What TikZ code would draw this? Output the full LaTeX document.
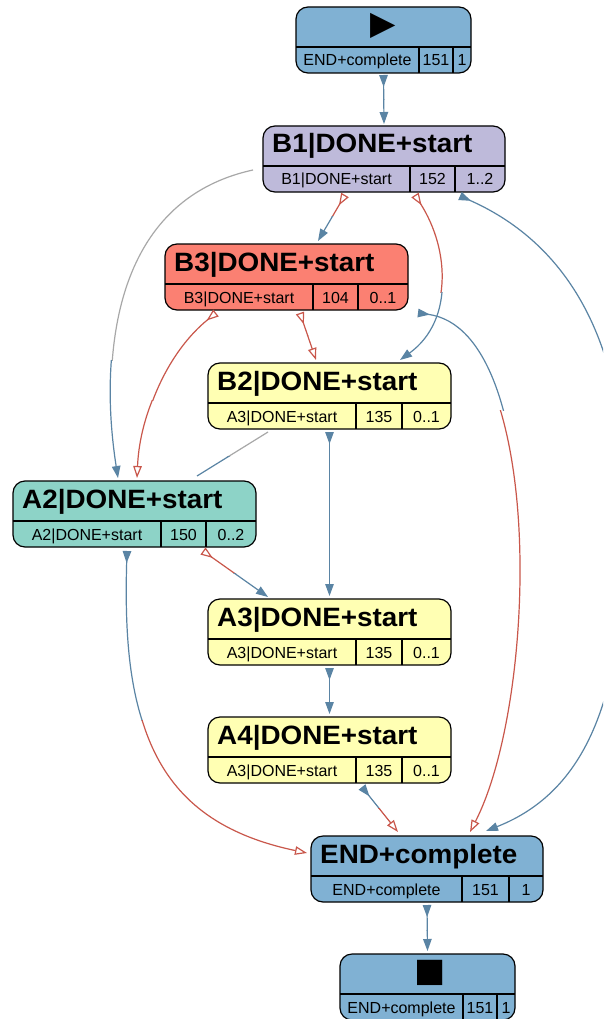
\documentclass[tikz,border=0pt]{standalone}
\usepackage{fontspec}
\setmainfont{Liberation Sans}
\newfontfamily\titlefont{Liberation Sans Bold}[FakeStretch=1.05]
\newfontfamily\symfont{DejaVu Sans}
\usetikzlibrary{arrows.meta,calc}

% node fills (ColorBrewer Set3)
\definecolor{setblue}{HTML}{80B1D3}
\definecolor{setlav}{HTML}{BEBADA}
\definecolor{setsalmon}{HTML}{FB8072}
\definecolor{setyellow}{HTML}{FFFFB3}
\definecolor{setteal}{HTML}{8DD3C7}
% edge colours
\definecolor{eblue}{HTML}{5A84A4}
\definecolor{ered}{HTML}{C9574B}
\definecolor{egray}{HTML}{A8A8A8}

\tikzset{
  recbox/.style={draw=black, line width=1.2pt, rounded corners=12pt,
    minimum height=66pt, inner sep=0pt, outer sep=0pt, anchor=north west},
  recline/.style={draw=black, line width=1.2pt},
  celltext/.style={font=\fontsize{16}{18}\selectfont, inner sep=0pt, anchor=base},
  titletext/.style={font=\titlefont\fontsize{26.5}{30}\selectfont, inner sep=0pt, anchor=base west},
  symtext/.style={font=\symfont\fontsize{33}{36}\selectfont, inner sep=0pt, anchor=center},
  edgeline/.style={line width=1.2pt},
  tailblue/.style={edgeline, draw=eblue, {Triangle[reversed,length=12pt,width=8.5pt]}-},
  tailred/.style={edgeline, draw=ered, {Triangle[open,reversed,length=12pt,width=8.5pt]}-},
  tailgray/.style={edgeline, draw=egray},
  headblue/.style={edgeline, draw=eblue, -{Triangle[length=12pt,width=8.5pt]}},
  headred/.style={edgeline, draw=ered, -{Triangle[open,length=12pt,width=8.5pt]}},
}

% record box: name, left, top, width, fill, first divider, second divider
\newcommand\recnode[7]{%
  \def\rname{#1}\def\rw{#4}\def\rda{#6}\def\rdb{#7}%
  \node[recbox, fill=#5, minimum width=#4pt] (#1) at (#2,#3) {};
  \draw[recline] ($(#1.north west)+(0,40)$) -- ($(#1.north east)+(0,40)$);
  \draw[recline] ($(#1.north west)+(#6,40)$) -- ($(#1.north west)+(#6,66)$);
  \draw[recline] ($(#1.north west)+(#7,40)$) -- ($(#1.north west)+(#7,66)$);
}
% the three texts of the lower row of the last record box
\newcommand\reccells[3]{%
  \pgfmathsetmacro\ca{\rda/2}%
  \pgfmathsetmacro\cb{(\rda+\rdb)/2}%
  \pgfmathsetmacro\cc{(\rdb+\rw)/2}%
  \node[celltext] (\rname-c1) at ($(\rname.north west)+(\ca,59)$) {#1};
  \node[celltext] (\rname-c2) at ($(\rname.north west)+(\cb,59)$) {#2};
  \node[celltext] (\rname-c3) at ($(\rname.north west)+(\cc,59)$) {#3};
}
% heading of the last record box
\newcommand\rectitle[1]{%
  \node[titletext] (\rname-t) at ($(\rname.north west)+(9,27)$) {#1};
}
% edge in two colours: tail style, head style, y where the colour changes, path
\newcommand\edgepath[4]{%
  \begin{scope}\clip (-100,-100) rectangle (800,#3); \draw[#1] #4; \end{scope}
  \begin{scope}\clip (-100,#3) rectangle (800,1200); \draw[#2] #4; \end{scope}
}

\begin{document}
\begin{tikzpicture}[x=1pt, y=-1pt]
\clip (0,0) rectangle (603,1019);
\fill[white] (0,0) rectangle (603,1019);

% ---------- states ----------
\recnode{start}{296}{7}{175}{setblue}{123}{157}
\node[symtext] (start-s) at ($(start.north)+(0,19)$) {▶};
\reccells{END+complete}{151}{1}

\recnode{b1}{263}{126}{242}{setlav}{147}{192}
\rectitle{B1|DONE+start}
\reccells{B1|DONE+start}{152}{1..2}

\recnode{b3}{165}{244}{243}{setsalmon}{148}{193}
\rectitle{B3|DONE+start}
\reccells{B3|DONE+start}{104}{0..1}

\recnode{b2}{208}{363}{243}{setyellow}{148}{194}
\rectitle{B2|DONE+start}
\reccells{A3|DONE+start}{135}{0..1}

\recnode{a2}{13}{481}{243}{setteal}{148}{193}
\rectitle{A2|DONE+start}
\reccells{A2|DONE+start}{150}{0..2}

\recnode{a3}{208}{599}{243}{setyellow}{148}{194}
\rectitle{A3|DONE+start}
\reccells{A3|DONE+start}{135}{0..1}

\recnode{a4}{208}{717}{243}{setyellow}{148}{194}
\rectitle{A4|DONE+start}
\reccells{A3|DONE+start}{135}{0..1}

\recnode{fin}{311}{836}{232}{setblue}{151}{198}
\rectitle{END+complete}
\reccells{END+complete}{151}{1}

\recnode{stop}{340}{954}{175}{setblue}{123}{157}
\node[symtext] (stop-s) at ($(stop.north)+(3,19)$) {■};
\reccells{END+complete}{151}{1}

% ---------- transitions ----------
\edgepath{tailblue}{headblue}{100}{($(start.south)+(0,2)$) -- ($(b1.north)+(0,-2)$)}
\edgepath{tailred}{headblue}{216}{($(b1.north west)+(82,69)$) -- ($(b3.north west)+(153,-3)$)}
\edgepath{tailred}{headblue}{292}{($(b1.north west)+(152,69)$) .. controls (450,250) and (455,320) .. ($(b2.north west)+(192,-3)$)}
\edgepath{tailgray}{headblue}{360}{($(b1.north west)+(-10,44)$) .. controls (115,200) and (98,350) .. ($(a2.north west)+(105,-3)$)}
\edgepath{tailblue}{headblue}{500}{($(b1.north west)+(197,70)$) .. controls (560,240) and (625,330) .. (625,500) .. controls (628,690) and (590,790) .. ($(fin.north west)+(175,-5)$)}
\edgepath{tailred}{headred}{335}{($(b3.north west)+(135,69)$) -- ($(b2.north west)+(108,-3)$)}
\edgepath{tailred}{headred}{400}{($(b3.north west)+(51,69)$) .. controls (170,350) and (140,410) .. ($(a2.north west)+(124,-3)$)}
\edgepath{tailblue}{headred}{410}{($(b3.south east)+(10,3)$) .. controls (548,330) and (538,700) .. ($(fin.north west)+(159,-4)$)}
\edgepath{tailgray}{headblue}{456}{($(a2.north west)+(184,-5)$) -- ($(b2.north west)+(60,69)$)}
\edgepath{tailblue}{headblue}{500}{($(b2.south)+(0,3)$) -- ($(a3.north)+(0,-3)$)}
\edgepath{tailred}{headblue}{573}{($(a2.north west)+(190,70)$) -- ($(a3.north west)+(60,-2)$)}
\edgepath{tailblue}{headred}{720}{($(a2.north west)+(114,70)$) .. controls (122,720) and (150,820) .. ($(fin.north west)+(-4,17)$)}
\edgepath{tailblue}{headblue}{690}{($(a3.south)+(0,3)$) -- ($(a4.north)+(0,-3)$)}
\edgepath{tailblue}{headred}{808}{($(a4.north west)+(154,70)$) -- ($(fin.north west)+(87,-4)$)}
\edgepath{tailblue}{headblue}{930}{($(fin.south)+(0,3)$) -- ($(stop.north)+(0,-3)$)}
\end{tikzpicture}
\end{document}
